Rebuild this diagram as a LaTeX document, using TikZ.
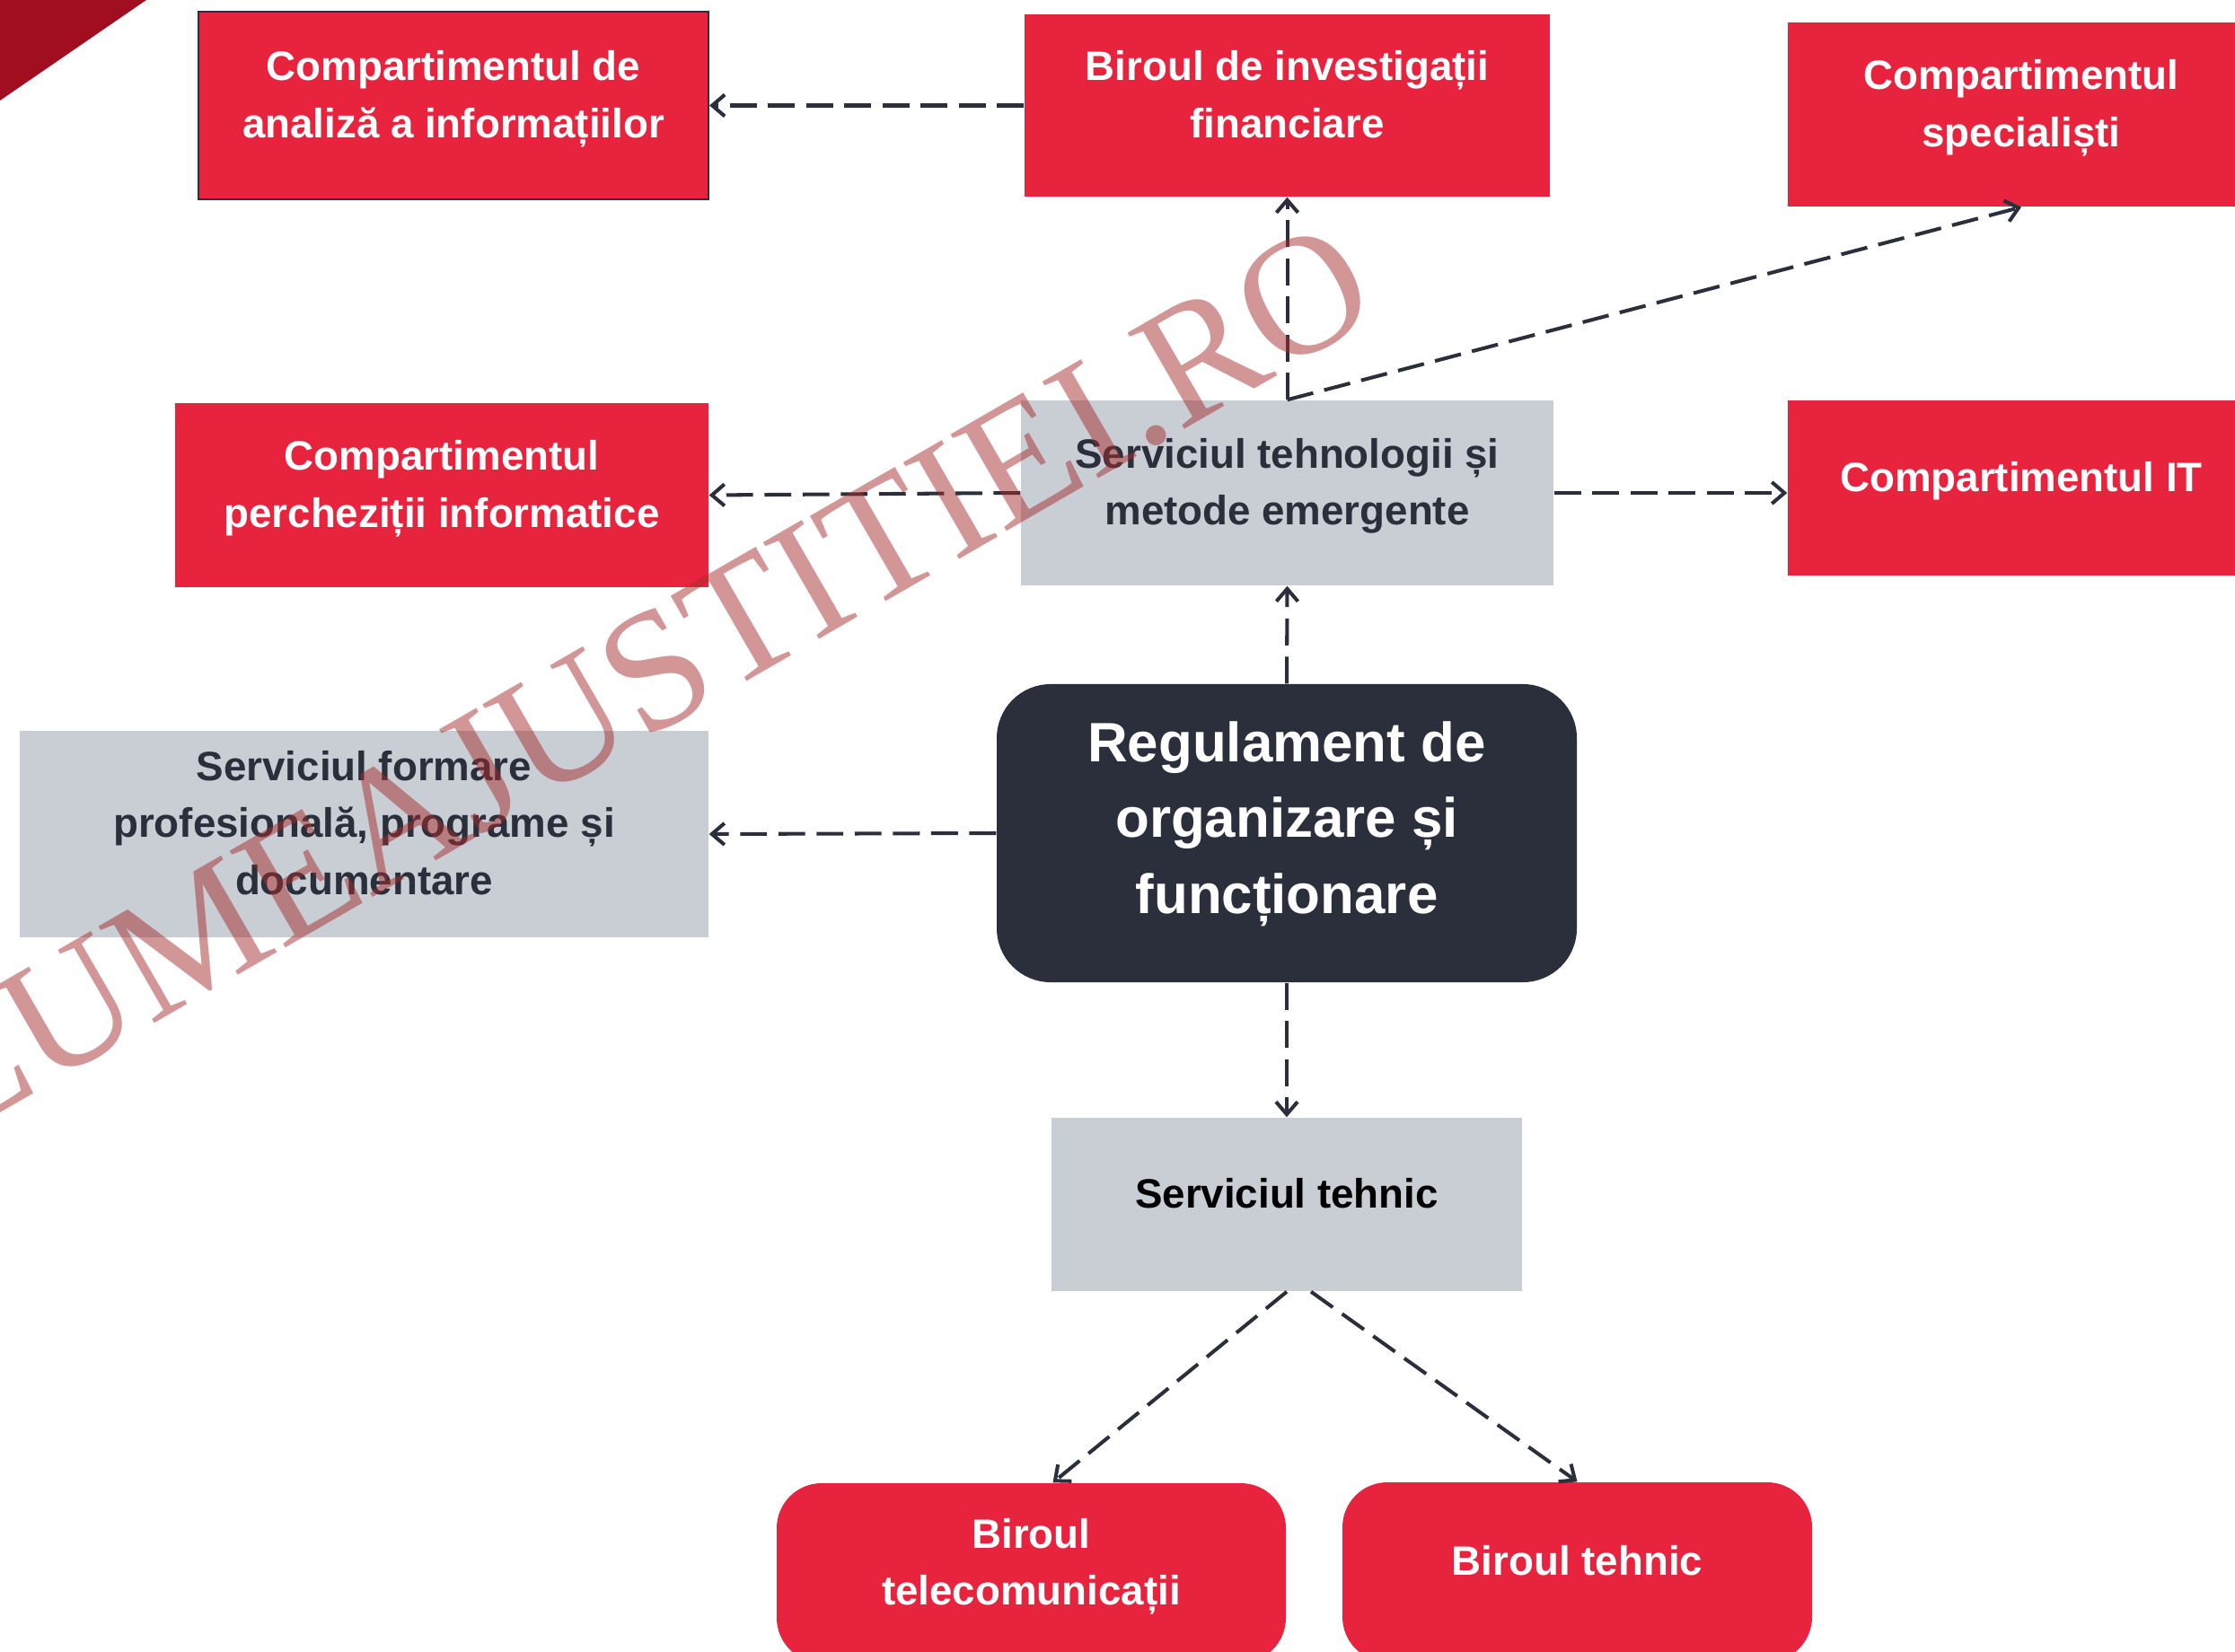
\documentclass[tikz,border=0pt]{standalone}
\usepackage{fontspec}
\setmainfont{Liberation Sans}
\newfontfamily\wmfont{Liberation Serif}
\usepackage{tikz}
\usetikzlibrary{arrows.meta,positioning,calc}
\definecolor{rored}{RGB}{232,35,62}
\definecolor{rodark}{RGB}{160,14,32}
\definecolor{rogrey}{RGB}{201,206,213}
\definecolor{ronavy}{RGB}{43,46,59}
\definecolor{wmred}{RGB}{165,45,45}
\tikzstyle{orgbox} =[rectangle, inner sep=0pt, align=center, text depth=7.2pt,
                    font=\fontsize{13}{18}\selectfont\bfseries]
\tikzstyle{redbox} =[orgbox, fill=rored, text=white]
\tikzstyle{greybox}=[orgbox, fill=rogrey, text=ronavy]
\tikzstyle{mainbox}=[orgbox, fill=ronavy, text=white, rounded corners=0.6cm,
                    text depth=10pt, font=\fontsize{17.6}{24}\selectfont\bfseries]
\tikzstyle{link}   =[draw=ronavy, line width=1.15pt,
                    dash pattern=on 8.5pt off 3.6pt,
                    -{Straight Barb[length=1.4mm, width=2.4mm]}]
\tikzstyle{wmark}  =[rotate=30, inner sep=0pt, text=wmred, text opacity=0.5,
                    font=\wmfont\fontsize{54}{54}\selectfont]

\begin{document}
\begin{tikzpicture}
    \useasboundingbox (0,0) rectangle (24.89,-18.40);
    \clip (0,0) rectangle (24.89,-18.40);
    \fill[rodark] (0,0) -- (1.63,0) -- (0,-1.12) -- cycle;

    \node[redbox, draw=ronavy, line width=0.6pt, minimum width=5.68cm, minimum height=2.09cm]
        (analiza) at (5.05,-1.175) {Compartimentul de\\analiză a informațiilor};
    \node[redbox, minimum width=5.85cm, minimum height=2.03cm]
        (invfin) at (14.335,-1.175) {Biroul de investigații\\financiare};
    \node[redbox, minimum width=5.2cm, minimum height=2.05cm]
        (specialisti) at (22.51,-1.275) {Compartimentul\\specialiști};
    \node[redbox, minimum width=5.94cm, minimum height=2.05cm]
        (perchezitii) at (4.92,-5.515) {Compartimentul\\percheziții informatice};
    \node[greybox, minimum width=5.93cm, minimum height=2.06cm]
        (tehnologii) at (14.335,-5.49) {Serviciul tehnologii și\\metode emergente};
    \node[redbox, minimum width=5.2cm, minimum height=1.95cm]
        (it) at (22.51,-5.435) {Compartimentul IT};
    \node[greybox, minimum width=7.67cm, minimum height=2.3cm]
        (formare) at (4.055,-9.29) {Serviciul formare\\profesională, programe și\\documentare};
    \node[mainbox, minimum width=6.46cm, minimum height=3.32cm]
        (rof) at (14.33,-9.28) {Regulament de\\organizare și\\funcționare};
    \node[greybox, text=black, minimum width=5.24cm, minimum height=1.93cm]
        (tehnic) at (14.33,-13.415) {Serviciul tehnic};
    \node[redbox, rounded corners=0.5cm, minimum width=5.67cm, minimum height=2.0cm]
        (telecom) at (11.485,-17.52) {Biroul\\telecomunicații};
    \node[redbox, rounded corners=0.5cm, minimum width=5.23cm, minimum height=2.0cm]
        (birou) at (17.565,-17.51) {Biroul tehnic};

    \foreach \a/\b in {invfin.west/analiza.east, rof.north/tehnologii.south,
                       tehnologii.north/invfin.south, tehnologii.north/specialisti.south,
                       tehnologii.west/perchezitii.east, rof.west/formare.east,
                       rof.south/tehnic.north}
        \draw[link] (\a) -- (\b);
    \draw[link] (tehnologii.east) -- (tehnologii.east -| it.west);
    \draw[link] (tehnic.south) -- ([xshift=0.24cm]telecom.north);
    \draw[link] ([xshift=0.27cm]tehnic.south) -- (birou.north);

    \node[wmark] (wm) at (7.14,-7.56) {LUMEAJUSTITIEI.RO};
\end{tikzpicture}
\end{document}
